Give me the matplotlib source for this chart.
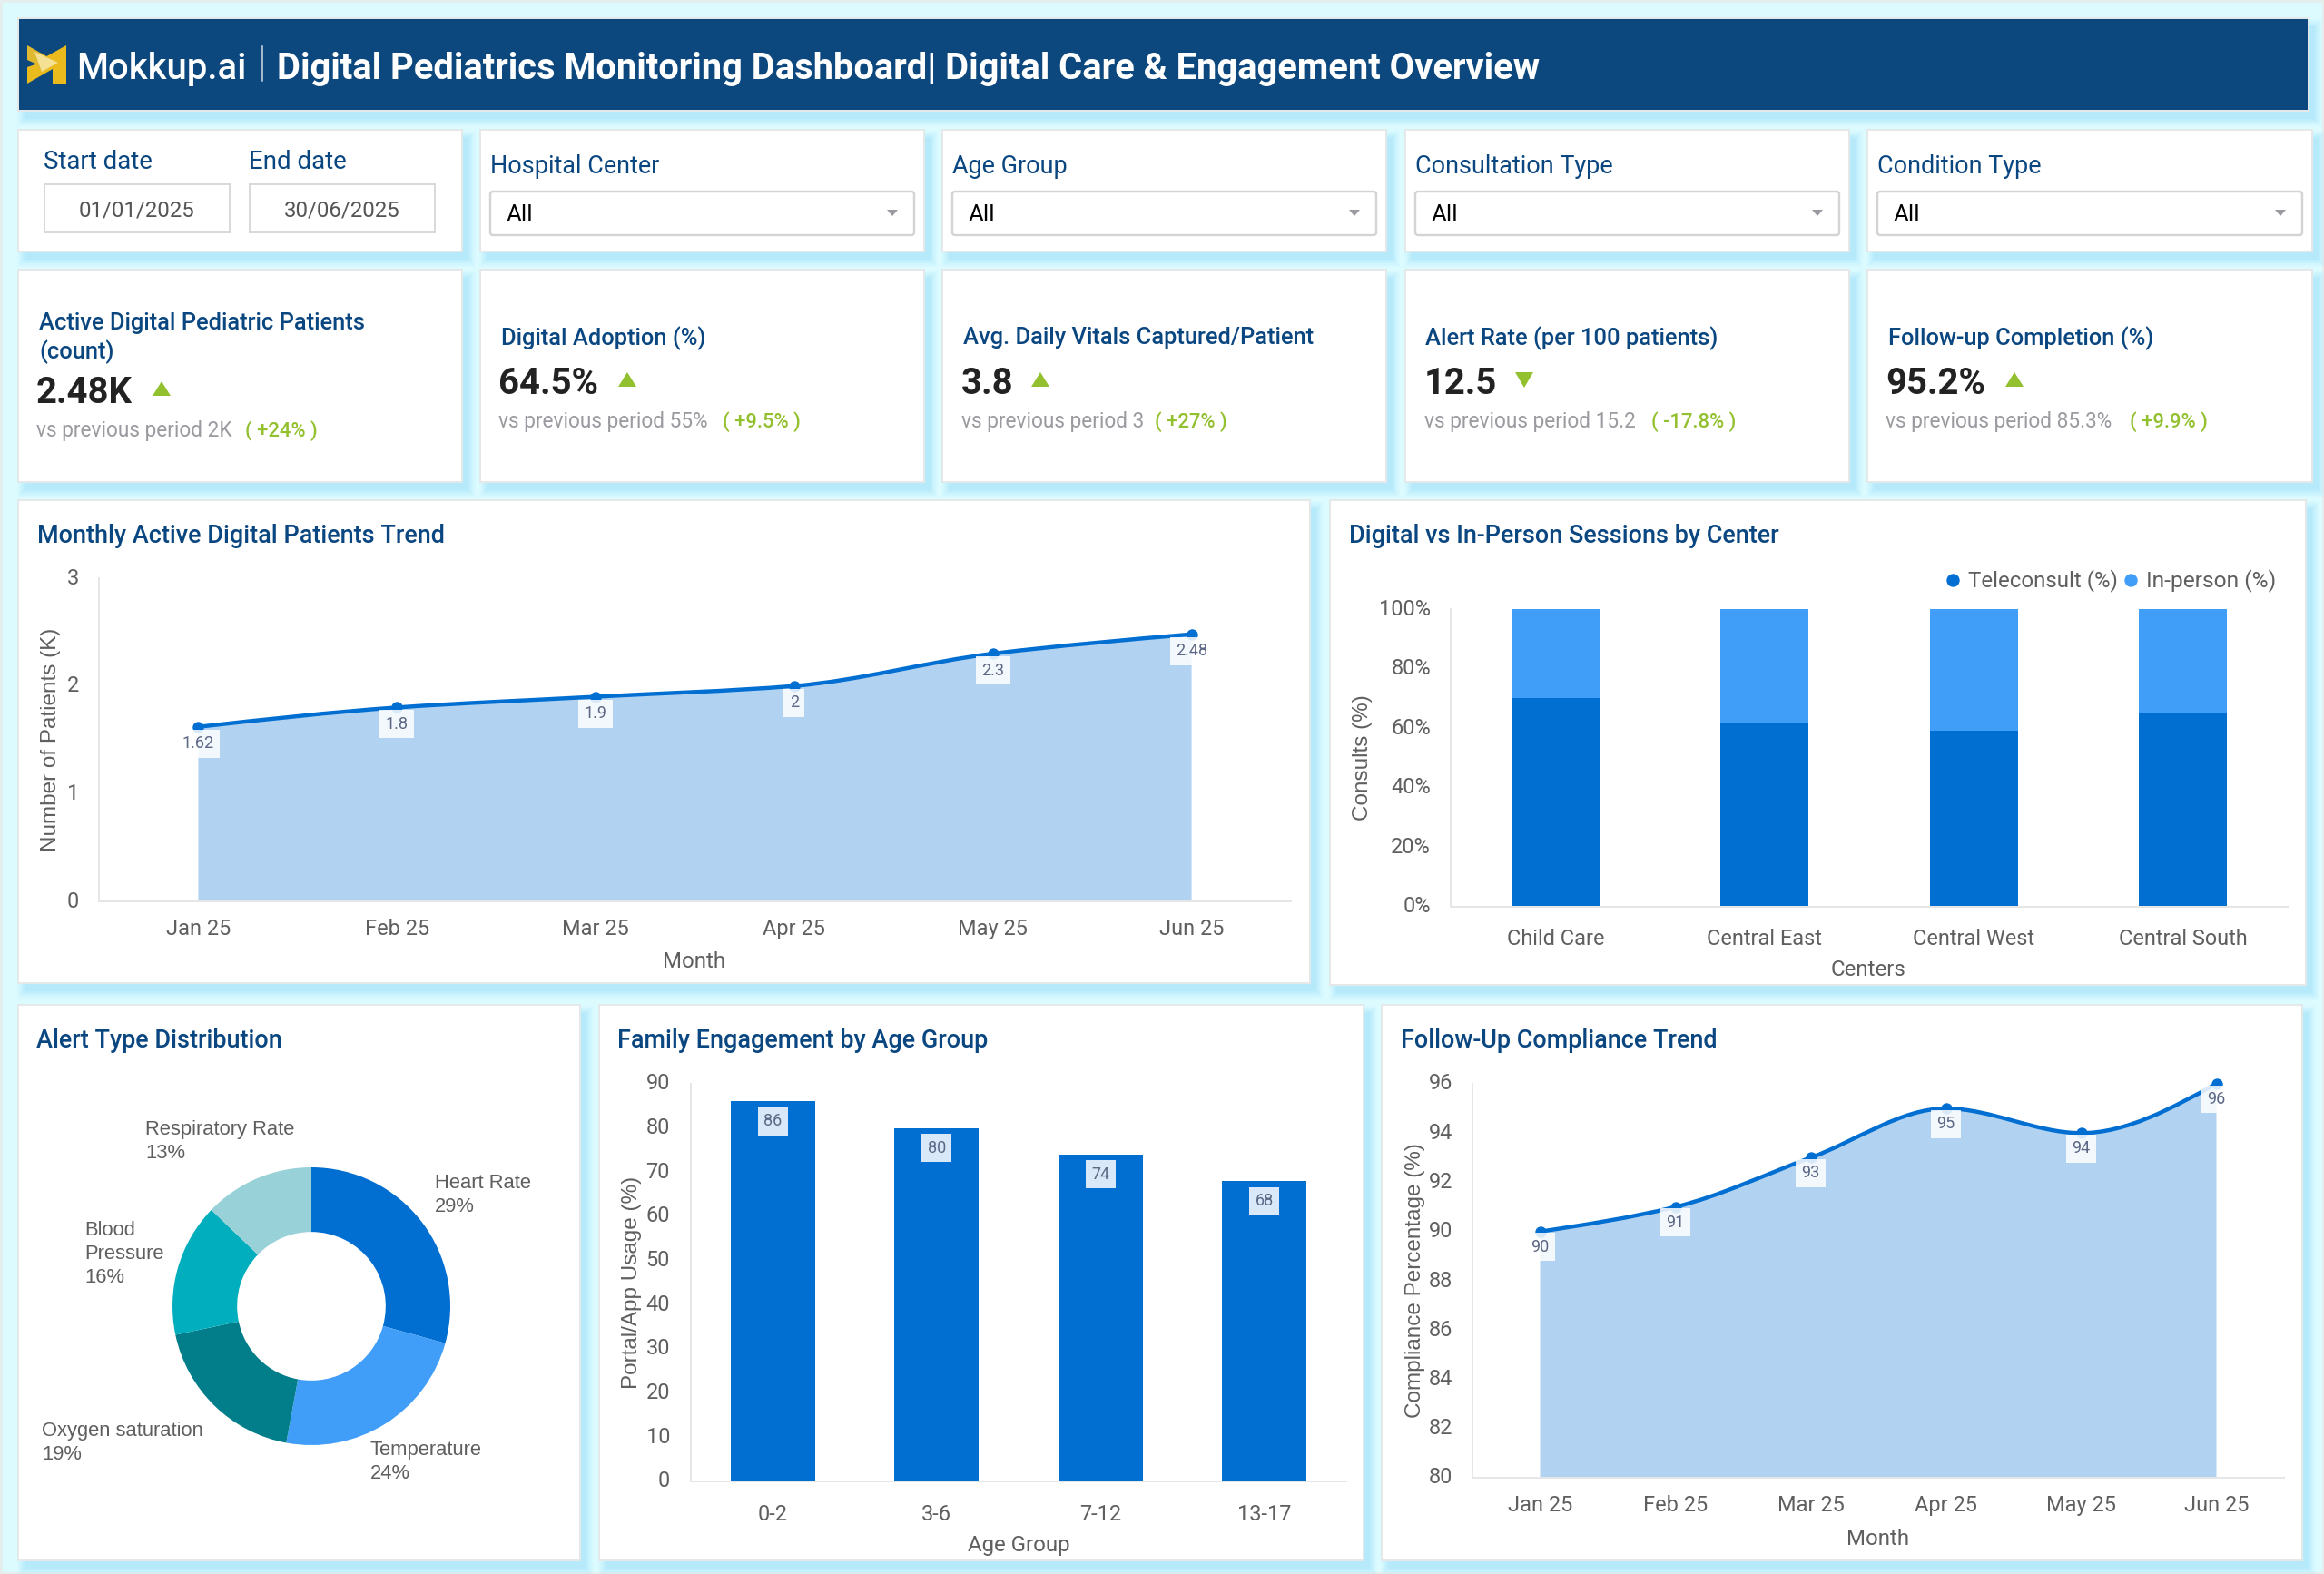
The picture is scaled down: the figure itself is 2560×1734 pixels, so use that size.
import matplotlib
matplotlib.use("Agg")
import numpy as np
import matplotlib.pyplot as plt
from matplotlib.patches import Rectangle, Polygon, PathPatch, FancyBboxPatch
from matplotlib.path import Path
from matplotlib.transforms import ScaledTranslation

# chart values
months = ["Jan 25", "Feb 25", "Mar 25", "Apr 25", "May 25", "Jun 25"]
active_patients = [1.62, 1.8, 1.9, 2, 2.3, 2.48]
centers = ["Child Care", "Central East", "Central West", "Central South"]
teleconsult = [70, 62, 59, 65]
in_person = [30, 38, 41, 35]
alert_types = ["Heart Rate", "Temperature", "Oxygen saturation", "Blood\nPressure", "Respiratory Rate"]
alert_share = [29.3, 23.6, 18.8, 15.5, 12.8]
age_groups = ["0-2", "3-6", "7-12", "13-17"]
portal_usage = [86, 80, 74, 68]
compliance = [90, 91, 93, 95, 94, 96]

# filter / kpi text
filter_names = ["Hospital Center", "Age Group", "Consultation Type", "Condition Type"]
kpi_titles = ["Active Digital Pediatric Patients\n(count)", "Digital Adoption (%)",
              "Avg. Daily Vitals Captured/Patient", "Alert Rate (per 100 patients)",
              "Follow-up Completion (%)"]
kpi_values = ["2.48K", "64.5%", "3.8", "12.5", "95.2%"]
kpi_prev = ["vs previous period 2K", "vs previous period 55%", "vs previous period 3",
            "vs previous period 15.2", "vs previous period 85.3%"]
kpi_delta = ["( +24% )", "( +9.5% )", "( +27% )", "( -17.8% )", "( +9.9% )"]
kpi_up = [True, True, True, False, True]

W, H = 2560, 1734
BG = "#dcfbff"
NAVY = "#0c487d"
TITLE = "#0a4680"
BLUE = "#016ed1"
LIGHT_BLUE = "#409df8"
AREA = "#b1d2f1"
GREEN = "#92c02e"
GREY_TXT = "#5f5f5f"
AXIS = "#e6e6e6"
ROBOTO = "Roboto"
LIB = "Liberation Sans"
PX = 0.72  # points per pixel at dpi 100
TEXT_DY = 2.5  # va=center sits a little high compared with the reference

fig = plt.figure(figsize=(W / 100, H / 100), dpi=100, facecolor=BG)
bg = fig.add_axes([0, 0, 1, 1])
bg.set_xlim(0, W)
bg.set_ylim(H, 0)
bg.axis("off")


def txt(x, y, s, px, color="#333333", weight="normal", ha="left", va="center", family=ROBOTO, **kw):
    if "rotation" not in kw:
        y = y + TEXT_DY
    return bg.text(x, y, s, fontsize=px * PX, color=color, fontweight=weight, ha=ha, va=va,
                   family=family, **kw)


def card(x0, y0, x1, y1, face="white"):
    # soft blue shadow down and to the right
    for grow, alpha in [(8, 0.10), (6, 0.14), (4, 0.2), (2, 0.26), (0, 0.32)]:
        bg.add_patch(Rectangle((x0 + 7 - grow, y0 + 9 - grow), x1 - x0 + 2 * grow, y1 - y0 + 2 * grow,
                               fc="#a8e4fb", ec="none", alpha=alpha, zorder=1))
    bg.add_patch(Rectangle((x0, y0), x1 - x0, y1 - y0, fc=face, ec="#e4e8e8", lw=2 * PX, zorder=2))


def px_axes(left, top, right, bottom):
    ax = fig.add_axes([left / W, 1 - bottom / H, (right - left) / W, (bottom - top) / H])
    ax.patch.set_alpha(0)
    return ax


def style_axes(ax, pad_x, pad_y, lift=2.5):
    for side in ["top", "right"]:
        ax.spines[side].set_visible(False)
    for side in ["left", "bottom"]:
        ax.spines[side].set_color(AXIS)
        ax.spines[side].set_linewidth(2 * PX)
    ax.tick_params(axis="x", length=0, pad=pad_x * PX, labelsize=23.5 * PX, labelcolor=GREY_TXT)
    ax.tick_params(axis="y", length=0, pad=pad_y * PX, labelsize=23.5 * PX, labelcolor=GREY_TXT)
    for t in ax.get_xticklabels() + ax.get_yticklabels():
        t.set_family(ROBOTO)
    for t in ax.get_yticklabels():
        t.set_transform(t.get_transform() + ScaledTranslation(0, lift / 100, fig.dpi_scale_trans))


def smooth_path(y):
    # monotone cubic through the data values
    y = np.asarray(y, dtype=float)
    d = np.diff(y)
    m = np.zeros(len(y))
    for i in range(1, len(y) - 1):
        if d[i - 1] * d[i] > 0:
            m[i] = 2 * d[i - 1] * d[i] / (d[i - 1] + d[i])
    m[0] = (3 * d[0] - m[1]) / 2
    m[-1] = (3 * d[-1] - m[-2]) / 2
    verts = [(0, y[0])]
    codes = [Path.MOVETO]
    for i in range(len(y) - 1):
        verts += [(i + 1 / 3, y[i] + m[i] / 3), (i + 2 / 3, y[i + 1] - m[i + 1] / 3), (i + 1, y[i + 1])]
        codes += [Path.CURVE4] * 3
    return verts, codes


def area_line(ax, values, base):
    verts, codes = smooth_path(values)
    area = Path(verts + [(len(values) - 1, base), (0, base), (0, base)],
                codes + [Path.LINETO, Path.LINETO, Path.CLOSEPOLY])
    ax.add_patch(PathPatch(area, fc=AREA, ec="none", zorder=2))
    ax.add_patch(PathPatch(Path(verts, codes), fc="none", ec=BLUE, lw=4.4 * PX, zorder=3))
    ax.plot(range(len(values)), values, "o", color=BLUE, ms=11 * PX, zorder=4, clip_on=False)


def value_label(ax, x, y, s, dy):
    ax.annotate(s, (x, y), xytext=(0, dy * PX), textcoords="offset points", ha="center", va="center",
                fontsize=18 * PX, family=ROBOTO, color="#5b6784", zorder=5,
                bbox=dict(boxstyle="square,pad=0.36", fc="white", ec="none", alpha=0.85))


def axis_titles(xlabel, x_xy, ylabel, y_xy):
    txt(x_xy[0], x_xy[1], xlabel, 24, color=GREY_TXT, ha="center", zorder=6)
    txt(y_xy[0] + 3, y_xy[1], ylabel, 24.2, color=GREY_TXT, ha="center", rotation=90, family=LIB, zorder=6)


bg.add_patch(Rectangle((0, 0), W, H, fc="none", ec="#e6eded", lw=5 * PX, zorder=0))

# header
card(20, 20, 2543, 122, face=NAVY)
bg.add_patch(Polygon([(73, 50), (73, 92), (58, 92), (58, 76), (30, 92), (30, 74), (42, 70), (46, 65)],
                     fc="#ebbb1e", ec="none", zorder=3))
bg.add_patch(Polygon([(30, 50), (64, 69), (46, 79), (39, 70), (30, 66)], fc="#dfb92f", ec="none", zorder=4))
bg.add_patch(Polygon([(38, 57), (64, 69), (46, 79)], fc="#f4e194", ec="none", zorder=5))
txt(84, 73.5, "Mokkup.ai", 40, color="white", weight=500, zorder=6)
bg.plot([289, 289], [51, 89], color="#d5dfe9", lw=1.5 * PX, zorder=6)
txt(305, 73.5, "Digital Pediatrics Monitoring Dashboard| Digital Care & Engagement Overview", 39.85,
    color="white", weight="bold", zorder=6)

# filter row
FILTER_Y = (143, 277)
card_x = [(20, 509), (529, 1018), (1038, 1527), (1548, 2037), (2057, 2547)]
card(*[card_x[0][0], FILTER_Y[0], card_x[0][1], FILTER_Y[1]])
for lbl, date, x0 in zip(["Start date", "End date"], ["01/01/2025", "30/06/2025"], [48, 274]):
    txt(x0, 176.5, lbl, 27.6, color=TITLE, zorder=6)
    bg.add_patch(Rectangle((x0 + 1, 203), 204, 53, fc="white", ec="#d9d9d9", lw=2 * PX, zorder=3))
    txt(x0 + 103, 229.5, date, 24, color="#555555", ha="center", zorder=6)

for name, (x0, x1) in zip(filter_names, card_x[1:]):
    card(x0, FILTER_Y[0], x1, FILTER_Y[1])
    txt(x0 + 11, 181, name, 27, color=TITLE, zorder=6)
    bg.add_patch(FancyBboxPatch((x0 + 11, 211), x1 - x0 - 22, 48, boxstyle="round,pad=0,rounding_size=3",
                                fc="white", ec="#d4d4d4", lw=2.4 * PX, zorder=3))
    txt(x0 + 29, 234.5, "All", 26, color="black", zorder=6)
    caret = x1 - 35
    bg.add_patch(Polygon([(caret - 6, 231), (caret + 6, 231), (caret, 238)], fc="#9a9aa0", ec="none", zorder=6))

# kpi row
KPI_Y = (297, 531)
title_x = [43, 552, 1061, 1570, 2080]
value_x = [40, 549, 1059, 1569, 2077]
tri_x = [178, 691, 1146, 1679, 2219]
delta_x = [270, 796, 1272, 1819, 2346]
for i, (x0, x1) in enumerate(card_x):
    card(x0, KPI_Y[0], x1, KPI_Y[1])
    two_line = "\n" in kpi_titles[i]
    shift = 10 if two_line else 0
    txt(title_x[i], 370, kpi_titles[i], 25.5, color=TITLE, weight=500, zorder=6, linespacing=1.3)
    txt(value_x[i], 420.5 + shift, kpi_values[i], 40, color="#222222", weight="bold", zorder=6)
    y_tri = 418 + shift
    if kpi_up[i]:
        pts = [(tri_x[i] - 10, y_tri + 8), (tri_x[i] + 10, y_tri + 8), (tri_x[i], y_tri - 8)]
    else:
        pts = [(tri_x[i] - 10, y_tri - 8), (tri_x[i] + 10, y_tri - 8), (tri_x[i], y_tri + 9)]
    bg.add_patch(Polygon(pts, fc=GREEN, ec="none", zorder=6))
    txt(value_x[i], 462 + shift, kpi_prev[i], 22.6, color="#9a9aa0", zorder=6)
    txt(delta_x[i], 462 + shift, kpi_delta[i], 22, color=GREEN, weight=500, zorder=6)

# chart cards
card(20, 551, 1443, 1083)
card(1465, 551, 2540, 1085)
card(20, 1107, 639, 1719)
card(660, 1107, 1502, 1719)
card(1522, 1107, 2536, 1719)
txt(41, 587.5, "Monthly Active Digital Patients Trend", 27, color=TITLE, weight=500, zorder=6)
txt(1486, 587.5, "Digital vs In-Person Sessions by Center", 27, color=TITLE, weight=500, zorder=6)
txt(40, 1143.5, "Alert Type Distribution", 27, color=TITLE, weight=500, zorder=6)
txt(680, 1143.5, "Family Engagement by Age Group", 27, color=TITLE, weight=500, zorder=6)
txt(1543, 1143.5, "Follow-Up Compliance Trend", 27, color=TITLE, weight=500, zorder=6)

# monthly active patients
ax1 = px_axes(109, 637, 1422, 993)
ax1.set_xlim(-0.5, 5.5)
ax1.set_ylim(0, 3)
area_line(ax1, active_patients, 0)
ax1.set_xticks(range(len(months)), months)
ax1.set_yticks([0, 1, 2, 3])
style_axes(ax1, 19, 22)
for i, v in enumerate(active_patients):
    value_label(ax1, i, v, str(v), -18.5)
axis_titles("Month", (765, 1057), "Number of Patients (K)", (53, 815))

# digital vs in-person
ax2 = px_axes(1598, 671, 2520, 999)
ax2.set_xlim(-0.5, 3.5)
ax2.set_ylim(0, 100)
ax2.bar(range(4), teleconsult, width=0.42, color=BLUE, zorder=2)
ax2.bar(range(4), in_person, width=0.42, bottom=teleconsult, color=LIGHT_BLUE, zorder=2)
ax2.set_xticks(range(4), centers)
ax2.set_yticks(range(0, 101, 20), [f"{v}%" for v in range(0, 101, 20)])
style_axes(ax2, 24, 22)
axis_titles("Centers", (2058, 1066), "Consults (%)", (1498, 835))
bg.plot([2151], [639], "o", color=BLUE, ms=13 * PX, zorder=6)
txt(2168, 637, "Teleconsult (%)", 24, color=GREY_TXT, zorder=6)
bg.plot([2347], [639], "o", color=LIGHT_BLUE, ms=13 * PX, zorder=6)
txt(2364, 637, "In-person (%)", 24.5, color=GREY_TXT, zorder=6)

# alert donut
R = 153
ax3 = px_axes(343 - R, 1439 - R, 343 + R, 1439 + R)
ax3.pie(alert_share, colors=[BLUE, LIGHT_BLUE, "#017e8a", "#00aebe", "#98d1d8"], startangle=90,
        counterclock=False, radius=1, wedgeprops=dict(width=0.465))
ax3.set_xlim(-1, 1)
ax3.set_ylim(-1, 1)
label_xy = [(479, 1314), (408, 1608), (46, 1587), (93, 1379), (160, 1255)]
for name, share, (lx, ly) in zip(alert_types, alert_share, label_xy):
    txt(lx, ly, f"{name}\n{share:.0f}%", 22, color=GREY_TXT, family=LIB, zorder=6, linespacing=1.3)

# family engagement
ax4 = px_axes(761, 1194, 1483, 1632)
ax4.set_xlim(-0.5, 3.5)
ax4.set_ylim(0, 90)
ax4.bar(range(4), portal_usage, width=0.513, color=BLUE, zorder=2)
ax4.set_xticks(range(4), age_groups)
ax4.set_yticks(range(0, 91, 10))
style_axes(ax4, 25, 23)
for i, v in enumerate(portal_usage):
    value_label(ax4, i, v, str(v), -22)
axis_titles("Age Group", (1122, 1700), "Portal/App Usage (%)", (693, 1413))

# follow-up compliance
ax5 = px_axes(1622, 1194, 2516, 1628)
ax5.set_xlim(-0.5, 5.5)
ax5.set_ylim(80, 96)
area_line(ax5, compliance, 80)
ax5.set_xticks(range(len(months)), months)
ax5.set_yticks(range(80, 97, 2))
style_axes(ax5, 19, 22)
for i, v in enumerate(compliance):
    value_label(ax5, i, v, str(v), -17)
axis_titles("Month", (2069, 1693), "Compliance Percentage (%)", (1556, 1411))

fig.savefig("out.png", dpi=100, facecolor=BG)
